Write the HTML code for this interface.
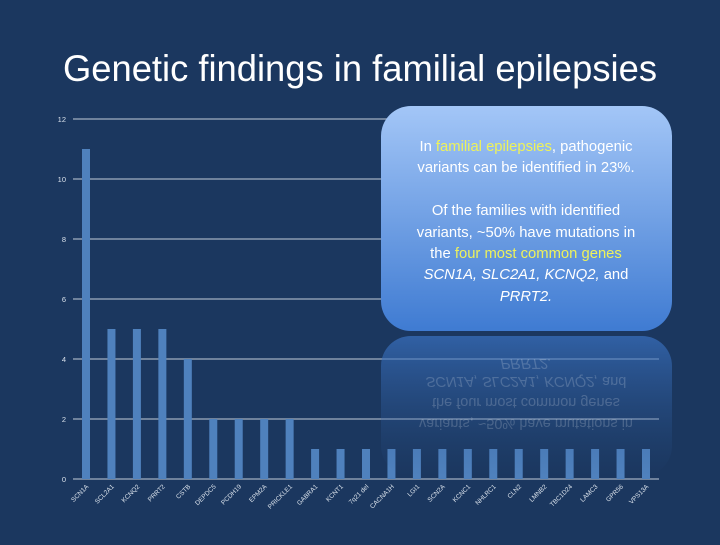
<!DOCTYPE html>
<html><head><style>
body{margin:0;width:720px;height:540px;background:#1b375f;overflow:hidden;font-family:"Liberation Sans",sans-serif;}
</style></head><body>
<svg width="720" height="540" xmlns="http://www.w3.org/2000/svg" font-family="Liberation Sans, sans-serif">
<defs>
<linearGradient id="g" x1="0" y1="0" x2="0" y2="1">
<stop offset="0" stop-color="#a3c6f7"/><stop offset="1" stop-color="#3f7bd2"/></linearGradient>
<linearGradient id="r" x1="0" y1="0" x2="0" y2="1">
<stop offset="0" stop-color="#3a72c2" stop-opacity="0.7"/><stop offset="1" stop-color="#2a5590" stop-opacity="0"/></linearGradient>
</defs>
<rect width="720" height="540" fill="#1b375f"/>
<text x="360" y="81" text-anchor="middle" fill="#fff" font-size="37" textLength="594" lengthAdjust="spacingAndGlyphs">Genetic findings in familial epilepsies</text>
<g stroke="#8b9bb0" stroke-width="1.5">
<line x1="73" y1="119" x2="659" y2="119"/><line x1="73" y1="179" x2="659" y2="179"/>
<line x1="73" y1="239" x2="659" y2="239"/><line x1="73" y1="299" x2="659" y2="299"/>
<line x1="73" y1="359" x2="659" y2="359"/><line x1="73" y1="419" x2="659" y2="419"/>
<line x1="73" y1="479" x2="659" y2="479"/></g>
<g fill="#d8e0ea" font-size="7.5" text-anchor="end">
<text x="66" y="122">12</text><text x="66" y="182">10</text><text x="66" y="242">8</text>
<text x="66" y="302">6</text><text x="66" y="362">4</text><text x="66" y="422">2</text><text x="66" y="482">0</text></g>
<g id="bars" fill="#4f81bd"></g>
<g id="labels" fill="#d8e0ea" font-size="6.5" text-anchor="end"></g>
<rect x="381" y="336" width="291" height="140" rx="30" fill="url(#r)"/>
<g font-size="14.5" fill="#fff" opacity="0.18" text-anchor="middle" transform="translate(0,664) scale(1,-1)">
<text x="526" y="305" font-style="italic">PRRT2.</text>
<text x="526" y="287"><tspan font-style="italic">SCN1A, SLC2A1, KCNQ2,</tspan> and</text>
<text x="526" y="266">the four most common genes</text>
<text x="526" y="245">variants, ~50% have mutations in</text>
</g>
<rect x="381" y="106" width="291" height="225" rx="30" fill="url(#g)"/>
<g font-size="14.8" fill="#fff" text-anchor="middle">
<text x="526" y="151">In <tspan fill="#eef25a">familial epilepsies</tspan>, pathogenic</text>
<text x="526" y="172">variants can be identified in 23%.</text>
<text x="526" y="215">Of the families with identified</text>
<text x="526" y="237">variants, ~50% have mutations in</text>
<text x="526" y="258">the <tspan fill="#eef25a">four most common genes</tspan></text>
<text x="526" y="279" font-style="italic">SCN1A, SLC2A1, KCNQ2,<tspan font-style="normal"> and</tspan></text>
<text x="526" y="301" font-style="italic">PRRT2.</text>
</g>
<script>
var d=[["SCN1A",11],["SCL2A1",5],["KCNQ2",5],["PRRT2",5],["CSTB",4],["DEPDC5",2],["PCDH19",2],["EPM2A",2],["PRICKLE1",2],["GABRA1",1],["KCNT1",1],["7q21 del",1],["CACNA1H",1],["LGI1",1],["SCN2A",1],["KCNC1",1],["NHLRC1",1],["CLN2",1],["LMNB2",1],["TBC1D24",1],["LAMC3",1],["GPR56",1],["VPS13A",1]];
var b=document.getElementById("bars"),l=document.getElementById("labels"),ns="http://www.w3.org/2000/svg";
var n=d.length,x0=86,x1=646,st=(x1-x0)/(n-1);
d.forEach(function(e,i){var cx=x0+i*st;var r=document.createElementNS(ns,"rect");
r.setAttribute("x",cx-4);r.setAttribute("width",8);r.setAttribute("y",479-e[1]*30);r.setAttribute("height",e[1]*30);b.appendChild(r);
var t=document.createElementNS(ns,"text");t.setAttribute("transform","translate("+(cx+3)+",487) rotate(-45)");t.textContent=e[0];l.appendChild(t);});
</script>
</svg>
</body></html>
